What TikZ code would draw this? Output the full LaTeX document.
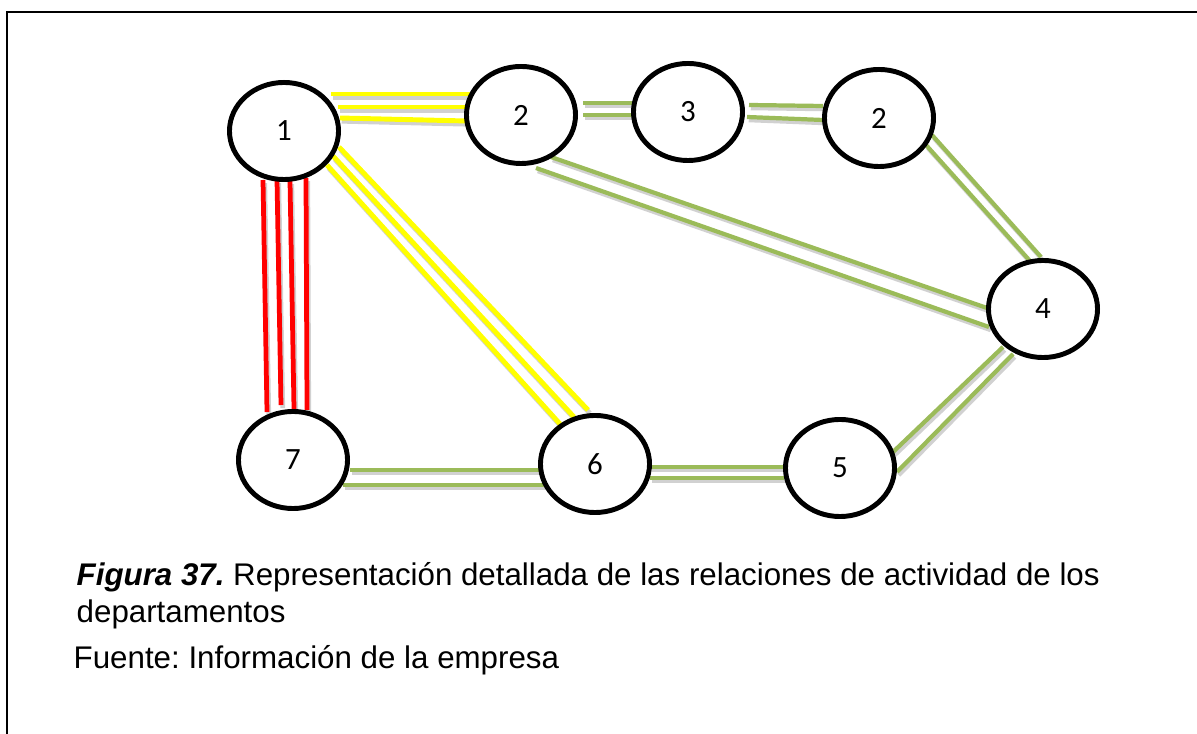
\documentclass[tikz,border=0pt]{standalone}
\usepackage{fontspec}
\setmainfont{Liberation Sans}
\newfontfamily\calibri{Carlito}
\usetikzlibrary{shapes.geometric,backgrounds}
\definecolor{verdeolivo}{RGB}{155,187,89}
\definecolor{amarillo}{RGB}{255,255,0}
\definecolor{rojo}{RGB}{255,0,0}
\frenchspacing
\begin{document}
\begin{tikzpicture}[x=0.01cm,y=-0.01cm,
        depto/.style={ellipse,draw,line width=1.4pt,fill=white,inner sep=0pt,
            minimum width=1.09cm,minimum height=0.97cm,
            font=\calibri\fontsize{8.8}{10}\selectfont},
        rel/.style={line width=#1,preaction={draw=black!18,line width=#1,
            transform canvas={shift={(0.5pt,-0.9pt)}}}},
        rel/.default=1.2pt,
        texto/.style={anchor=base west,inner sep=0pt,font=\fontsize{8.9}{11}\selectfont}]
        \useasboundingbox (0,0) rectangle (1197,734);
        %marco
        \draw[line width=0.6pt] (1210,12) -- (7,12) -- (7,750);

        %departamentos
        \node[depto] (n1) at (284,131) {1};
        \node[depto] (n2a) at (521,115) {2};
        \node[depto] (n3) at (688,112) {3};
        \node[depto] (n2b) at (879,118) {2};
        \node[depto] (n4) at (1043,309) {4};
        \node[depto] (n5) at (840,468) {5};
        \node[depto] (n6) at (595,464) {6};
        \node[depto] (n7) at (293,460) {7};

        \begin{scope}[on background layer]
        %relaciones amarillas 1-2
        \draw[rel=1.4pt,amarillo] ([shift={(47,-37)}]n1.center) -- ([shift={(-51,-21)}]n2a.center);
        \draw[rel=1.4pt,amarillo] ([shift={(54,-24)}]n1.center) -- ([shift={(-55,-8)}]n2a.center);
        \draw[rel=1.4pt,amarillo] ([shift={(56,-13)}]n1.center) -- ([shift={(-54,6)}]n2a.center);

        %relaciones amarillas 1-6
        \draw[rel=1.4pt,amarillo] ([shift={(55,16)}]n1.center) -- ([shift={(-7,-54)}]n6.center);
        \draw[rel=1.4pt,amarillo] ([shift={(49,25)}]n1.center) -- ([shift={(-21,-47)}]n6.center);
        \draw[rel=1.4pt,amarillo] ([shift={(43,34)}]n1.center) -- ([shift={(-35,-40)}]n6.center);

        %relaciones rojas 1-7
        \draw[rel=1.35pt,rojo] ([shift={(-21,49)}]n1.center) -- ([shift={(-26,-48)}]n7.center);
        \draw[rel=1.35pt,rojo] ([shift={(-7,49)}]n1.center) -- ([shift={(-12,-55)}]n7.center);
        \draw[rel=1.35pt,rojo] ([shift={(6,50)}]n1.center) -- ([shift={(1,-51)}]n7.center);
        \draw[rel=1.35pt,rojo] ([shift={(22,47)}]n1.center) -- ([shift={(14,-50)}]n7.center);

        %relaciones verdes
        \draw[rel,verdeolivo] ([shift={(62,-12)}]n2a.center) -- ([shift={(-56,-9)}]n3.center);
        \draw[rel,verdeolivo] ([shift={(62,0)}]n2a.center) -- ([shift={(-56,3)}]n3.center);

        \draw[rel,verdeolivo] ([shift={(61,-7)}]n3.center) -- ([shift={(-56,-12)}]n2b.center);
        \draw[rel,verdeolivo] ([shift={(59,5)}]n3.center) -- ([shift={(-56,2)}]n2b.center);

        \draw[rel,verdeolivo] ([shift={(53,17)}]n2b.center) -- ([shift={(-2,-52)}]n4.center);
        \draw[rel,verdeolivo] ([shift={(47,27)}]n2b.center) -- ([shift={(-13,-48)}]n4.center);

        \draw[rel,verdeolivo] ([shift={(30,42)}]n2a.center) -- ([shift={(-56,-1)}]n4.center);
        \draw[rel,verdeolivo] ([shift={(15,53)}]n2a.center) -- ([shift={(-54,18)}]n4.center);

        \draw[rel,verdeolivo] ([shift={(53,-16)}]n5.center) -- ([shift={(-40,38)}]n4.center);
        \draw[rel,verdeolivo] ([shift={(57,4)}]n5.center) -- ([shift={(-30,45)}]n4.center);

        \draw[rel,verdeolivo] ([shift={(55,3)}]n6.center) -- ([shift={(-56,-1)}]n5.center);
        \draw[rel,verdeolivo] ([shift={(55,14)}]n6.center) -- ([shift={(-56,10)}]n5.center);

        \draw[rel,verdeolivo] ([shift={(57,10)}]n7.center) -- ([shift={(-55,6)}]n6.center);
        \draw[rel,verdeolivo] ([shift={(50,25)}]n7.center) -- ([shift={(-50,21)}]n6.center);
        \end{scope}

        %pie de figura
        \node[texto] (pie1) at (76,586) {\textbf{\textit{Figura 37.}} Representación detallada de las relaciones de actividad de los};
        \node[texto] (pie2) at (76,623) {departamentos};
        \node[texto] (fuente) at (73,669) {Fuente: Información de la empresa};
\end{tikzpicture}
\end{document}
